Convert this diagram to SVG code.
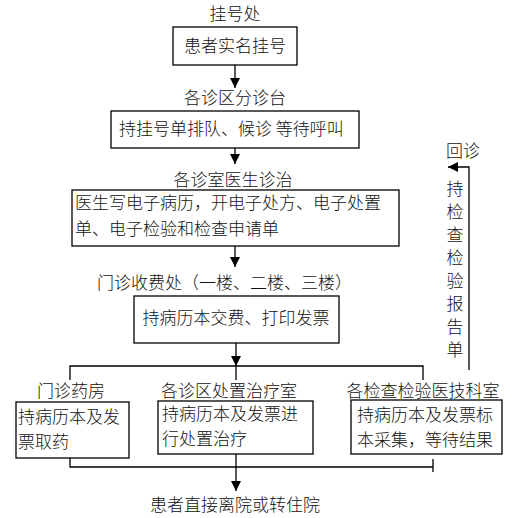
<svg xmlns="http://www.w3.org/2000/svg" width="530" height="518" viewBox="0 0 530 518">
<defs>
<marker id="ah" viewBox="0 0 10 10" refX="10" refY="5" markerWidth="10" markerHeight="10" markerUnits="userSpaceOnUse" orient="auto">
<path d="M0,0 L10,5 L0,10 z" fill="#000"/>
</marker>
<style>
text{font-family:"Noto Sans CJK SC","Liberation Serif",sans-serif;font-size:17px;font-weight:300;fill:#111}
.c{text-anchor:middle}
.v{writing-mode:vertical-rl;letter-spacing:6px}
.box{fill:#fff;stroke:#000;stroke-width:1.3}
.ln{fill:none;stroke:#000;stroke-width:1.3}
</style>
</defs>
<rect width="530" height="518" fill="#fff"/>
<g id="connectors">
<path class="ln" d="M235,65 V88" marker-end="url(#ah)"/>
<path class="ln" d="M235,148 V164" marker-end="url(#ah)"/>
<path class="ln" d="M235,246 V267" marker-end="url(#ah)"/>
<path class="ln" d="M236,343 V366" marker-end="url(#ah)"/>
<path class="ln" d="M70,380 V366 H423 V380 M236,366 V380"/>
<path class="ln" d="M70,458 V467 H433 M433,459 V472"/>
<path class="ln" d="M236,454 V491" marker-end="url(#ah)"/>
<path class="ln" d="M469,370 V167 H448" marker-end="url(#ah)"/>
</g>
<g id="n1"><text class="c" x="235" y="20">挂号处</text></g>
<g id="n2"><rect class="box" x="173" y="27" width="124" height="38"/><text class="c" x="235" y="52">患者实名挂号</text></g>
<g id="n3"><text class="c" x="235" y="104">各诊区分诊台</text></g>
<g id="n4"><rect class="box" x="111" y="111" width="248" height="37"/><text x="119" y="135">持挂号单排队、候诊 等待呼叫</text></g>
<g id="n5"><text class="c" x="233" y="186">各诊室医生诊治</text></g>
<g id="n6"><rect class="box" x="72" y="190" width="327" height="56"/><text x="75" y="209">医生写电子病历，开电子处方、电子处置<tspan x="75" dy="26">单、电子检验和检查申请单</tspan></text></g>
<g id="n7"><text x="97" y="289">门诊收费处（一楼、二楼、三楼）</text></g>
<g id="n8"><rect class="box" x="134" y="296" width="205" height="47"/><text class="c" x="236" y="324">持病历本交费、打印发票</text></g>
<g id="n9"><text class="c" x="71" y="397">门诊药房</text></g>
<g id="n10"><rect class="box" x="16" y="402" width="113" height="56"/><text x="18" y="423">持病历本及发<tspan x="18" dy="25">票取药</tspan></text></g>
<g id="n11"><text class="c" x="229" y="397">各诊区处置治疗室</text></g>
<g id="n12"><rect class="box" x="158" y="401" width="155" height="53"/><text x="162" y="420">持病历本及发票进<tspan x="162" dy="25">行处置治疗</tspan></text></g>
<g id="n13"><text class="c" x="423" y="397">各检查检验医技科室</text></g>
<g id="n14"><rect class="box" x="351" y="400" width="151" height="54"/><text x="357" y="421">持病历本及发票标<tspan x="357" dy="25">本采集，等待结果</tspan></text></g>
<g id="n15"><text class="c" x="235" y="511">患者直接离院或转住院</text></g>
<g id="n16"><text x="446" y="157">回诊</text></g>
<g id="n17"><text class="v" x="455" y="180">持检查检验报告单</text></g>
</svg>
